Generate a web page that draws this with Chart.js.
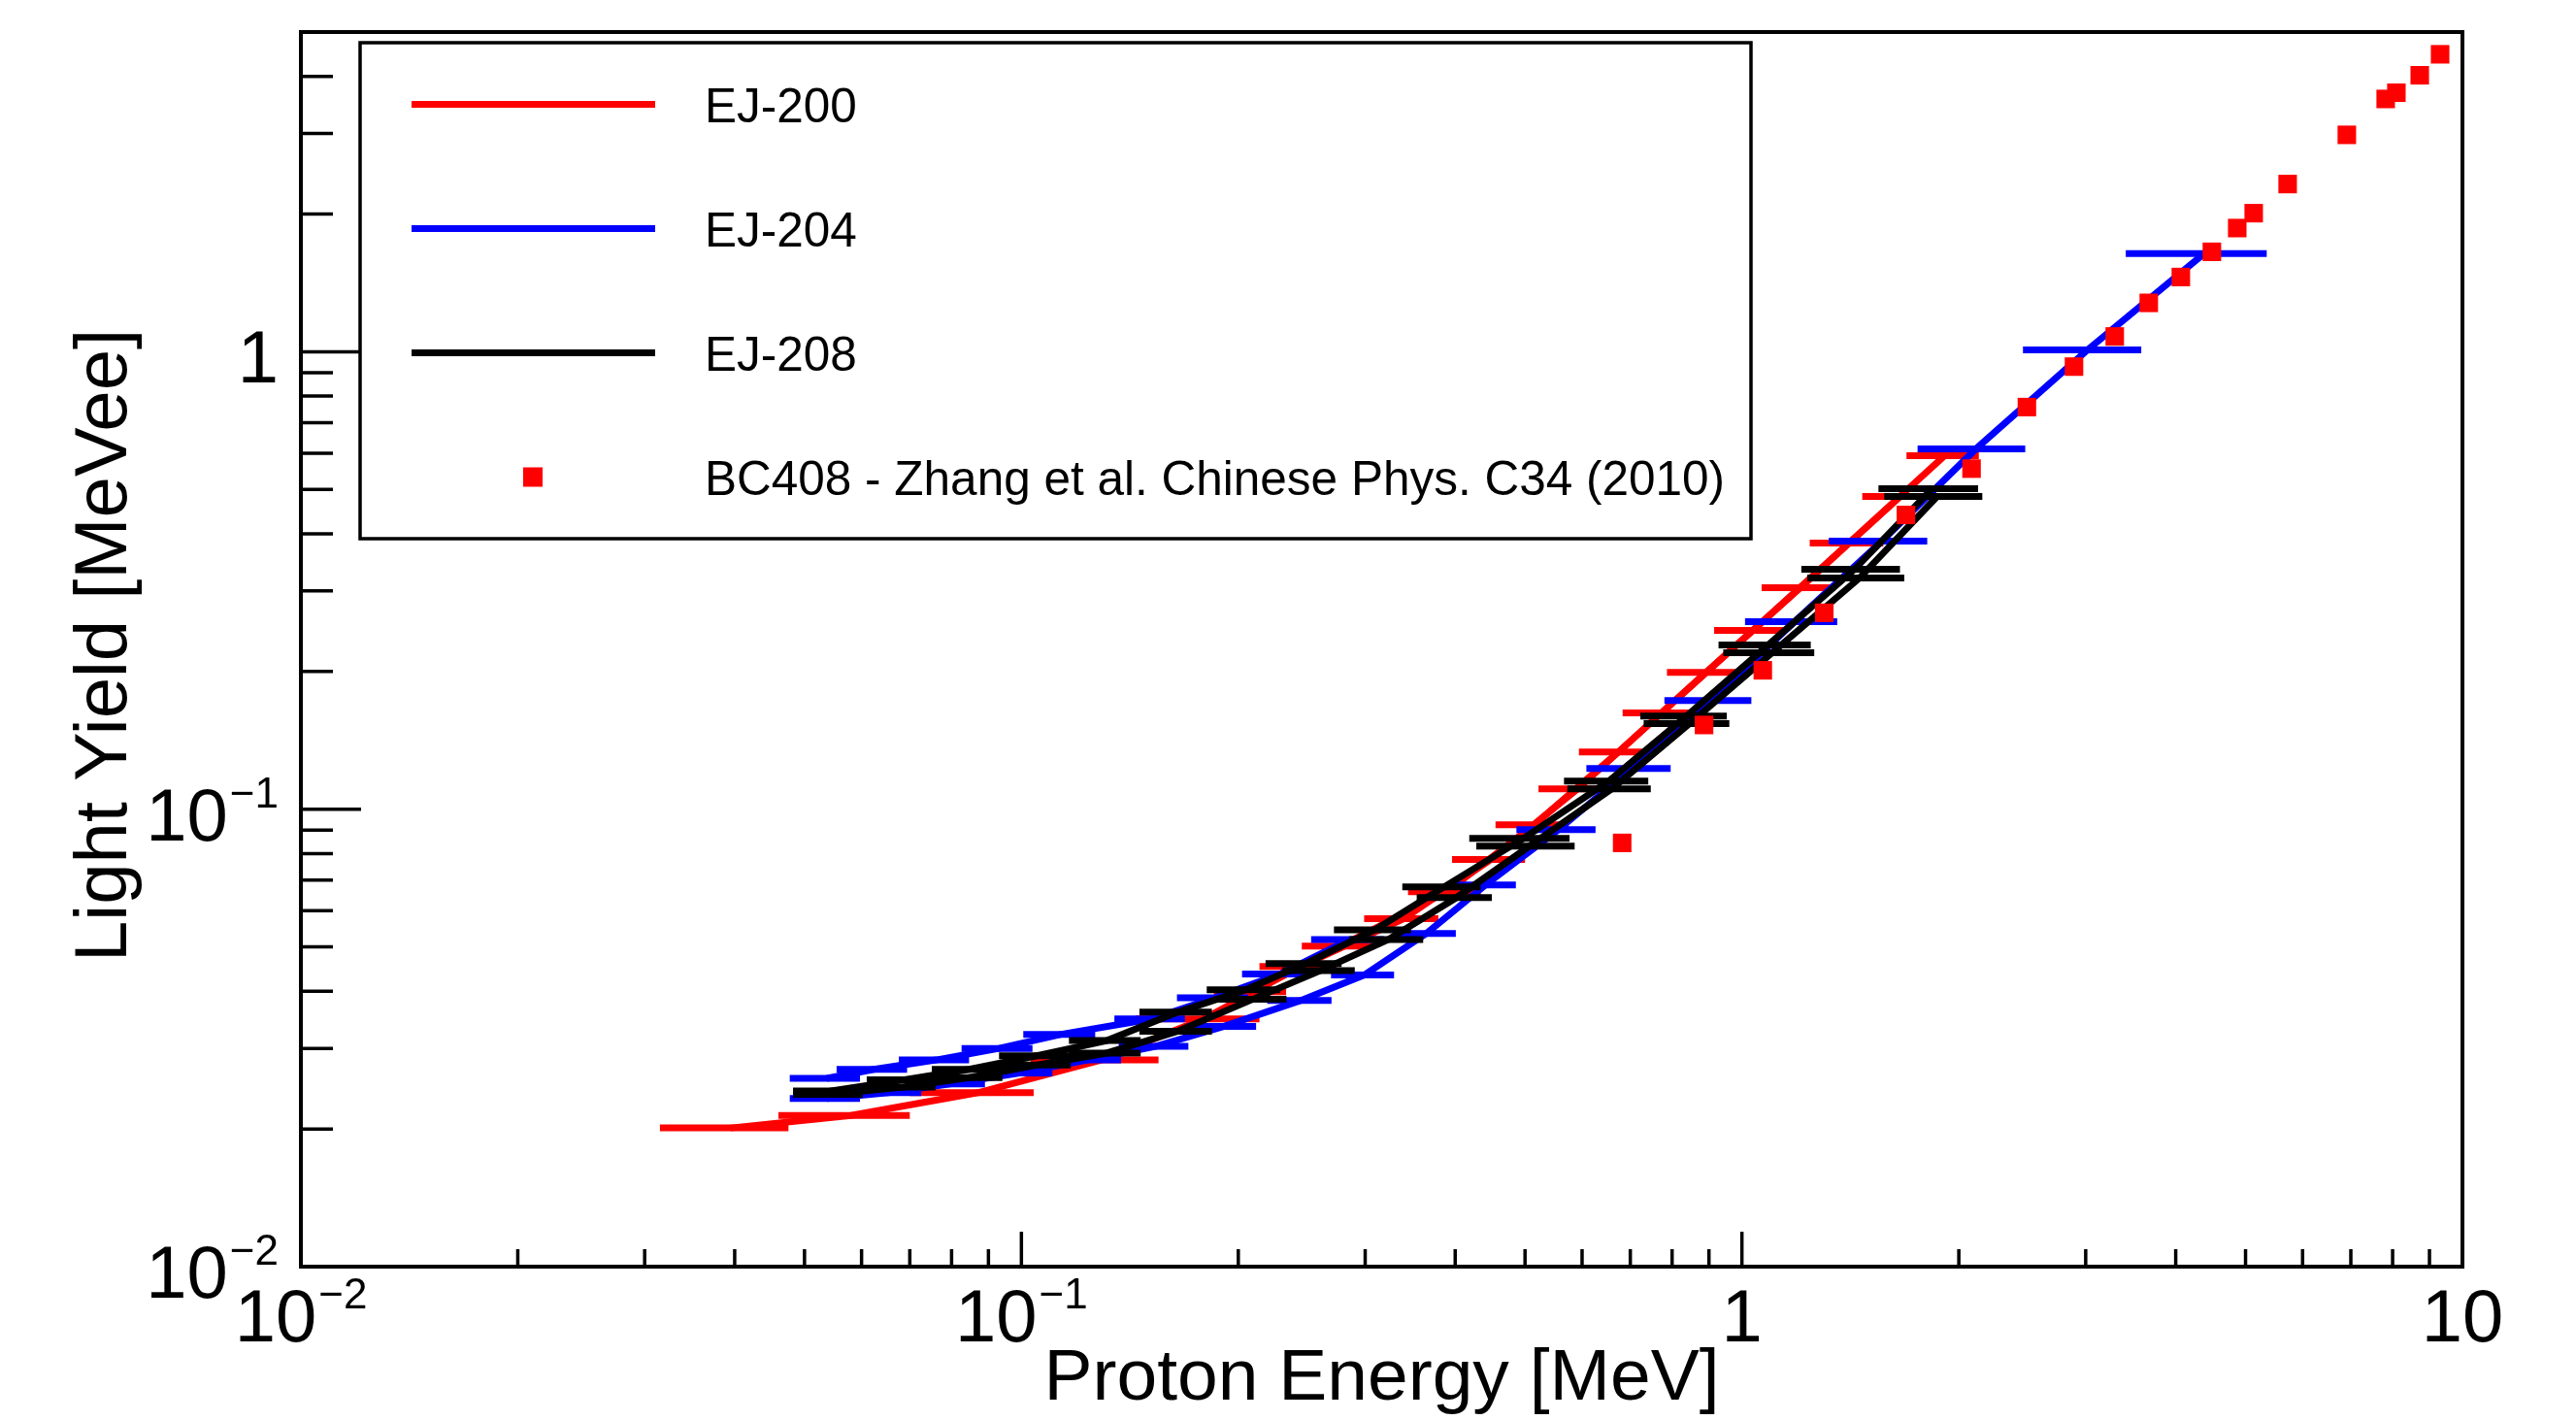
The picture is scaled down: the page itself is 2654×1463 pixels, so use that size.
<!DOCTYPE html>
<html>
<head>
<meta charset="utf-8">
<script src="https://cdn.jsdelivr.net/npm/chart.js@4.4.0/dist/chart.umd.min.js"></script>
<style>
html,body{margin:0;padding:0;background:#ffffff;}
#wrap{width:2654px;height:1463px;}
</style>
</head>
<body>
<div id="wrap"><canvas id="c" width="2654" height="1463"></canvas></div>
<script>
// ---------------- DATA ----------------
// EJ-200 (red), two measurement curves
const ej200aE  = [0.0395, 0.058, 0.087, 0.129, 0.179, 0.244, 0.339, 0.448, 0.592, 0.773, 1.035, 1.407, 1.912];
const ej200aLY = [0.0201, 0.0214, 0.0240, 0.0283, 0.0348, 0.0453, 0.0576, 0.0776, 0.1108, 0.1623, 0.2459, 0.3818, 0.5928];
const ej200aDE = [0.008, 0.012, 0.017, 0.026, 0.035, 0.03, 0.04, 0.052, 0.07, 0.09, 0.12, 0.165, 0.22];

const ej200bE  = [0.209, 0.277, 0.389, 0.515, 0.674, 0.892, 1.205, 1.659];
const ej200bLY = [0.0399, 0.0502, 0.0660, 0.0925, 0.1334, 0.1992, 0.3048, 0.4827];
const ej200bDE = [0.024, 0.032, 0.045, 0.06, 0.08, 0.105, 0.14, 0.19];

// EJ-204 (blue)
const ej204aE  = [0.0537, 0.0624, 0.0761, 0.0931, 0.1136, 0.1516, 0.1854, 0.2284, 0.2854];
const ej204aLY = [0.0258, 0.0270, 0.0283, 0.0300, 0.0322, 0.0348, 0.0387, 0.0436, 0.0519];
const ej204aDE = [0.006, 0.007, 0.0085, 0.0105, 0.013, 0.017, 0.021, 0.026, 0.033];

const ej204bE  = [0.0537, 0.0654, 0.0800, 0.0994, 0.1235, 0.1535, 0.1907, 0.2444, 0.2990, 0.3648, 0.4406, 0.5564, 0.7023, 0.9056, 1.183, 1.564, 2.113, 3.019, 4.380];
const ej204bLY = [0.0233, 0.0240, 0.0251, 0.0265, 0.0283, 0.0303, 0.0335, 0.0382, 0.0434, 0.0535, 0.0683, 0.0902, 0.1228, 0.1729, 0.2569, 0.3855, 0.6135, 1.010, 1.639];
const ej204bDE = [0.006, 0.0072, 0.009, 0.011, 0.014, 0.017, 0.021, 0.025, 0.03, 0.036, 0.045, 0.07, 0.094, 0.125, 0.173, 0.244, 0.36, 0.564, 0.97];

// EJ-208 (black)
const ej208aE  = [0.0542, 0.0685, 0.0846, 0.1051, 0.1314, 0.1648, 0.2048, 0.2482, 0.3095, 0.3858, 0.4974, 0.6538, 0.8379, 1.087, 1.433, 1.837];
const ej208aLY = [0.0242, 0.0256, 0.0270, 0.0289, 0.0312, 0.0360, 0.0403, 0.0460, 0.0545, 0.0676, 0.0863, 0.1152, 0.1599, 0.2285, 0.3345, 0.5021];
const ej208aDE = [0.006, 0.0075, 0.0095, 0.012, 0.015, 0.019, 0.024, 0.03, 0.038, 0.048, 0.079, 0.0875, 0.115, 0.159, 0.224, 0.29];

const ej208bE  = [0.0542, 0.0685, 0.0846, 0.1051, 0.1314, 0.1648, 0.2093, 0.2602, 0.3231, 0.4017, 0.5069, 0.6598, 0.8455, 1.101, 1.456, 1.866];
const ej208bLY = [0.0238, 0.0247, 0.0259, 0.0276, 0.0293, 0.0327, 0.0384, 0.0444, 0.0519, 0.0641, 0.0830, 0.1108, 0.1538, 0.2197, 0.3201, 0.4827];
const ej208bDE = [0.006, 0.0075, 0.0095, 0.012, 0.015, 0.019, 0.024, 0.03, 0.038, 0.048, 0.079, 0.0875, 0.115, 0.159, 0.224, 0.29];

// BC408 - Zhang et al.
const bc408E  = [0.682, 0.886, 1.069, 1.301, 1.689, 2.083, 2.486, 2.890, 3.292, 3.670, 4.066, 4.490, 4.869, 5.132, 5.720, 6.911, 7.825, 8.097, 8.725, 9.311];
const bc408LY = [0.0844, 0.1528, 0.2012, 0.2688, 0.4398, 0.5553, 0.757, 0.928, 1.080, 1.279, 1.457, 1.654, 1.864, 2.009, 2.326, 2.980, 3.570, 3.684, 4.022, 4.470];

// Labels / ticks
const seriesLabels = ['EJ-200', 'EJ-204', 'EJ-208', 'BC408 - Zhang et al. Chinese Phys. C34 (2010)'];
const xTitle = 'Proton Energy [MeV]';
const yTitle = 'Light Yield [MeVee]';
const xTickValues = [0.01, 0.1, 1, 10];
const xTickBases  = ['10', '10', '1', '10'];
const xTickExps   = ['\u22122', '\u22121', '', ''];
const yTickValues = [0.01, 0.1, 1];
const yTickBases  = ['10', '10', '1'];
const yTickExps   = ['\u22122', '\u22121', ''];
const minorMultipliers = [2, 3, 4, 5, 6, 7, 8, 9];

// ---------------- helpers ----------------
const FONT = '"Liberation Sans", Arial, Helvetica, sans-serif';
const RED = '#ff0000', BLUE = '#0000ff', BLACK = '#000000';
const LW = 7;
const pts = (xs, ys) => xs.map((x, i) => ({x: x, y: ys[i]}));

function lineSet(label, xs, ys, dxs, color, order, legend) {
  return {
    label: label, data: pts(xs, ys), xErr: dxs, showLine: true,
    borderColor: color, backgroundColor: color, borderWidth: LW,
    pointRadius: 0, pointHoverRadius: 0, fill: false, tension: 0,
    order: order, inLegend: legend, legendKind: 'line'
  };
}

const datasets = [
  {
    label: seriesLabels[3], data: pts(bc408E, bc408LY), showLine: false,
    pointStyle: 'rect', pointRadius: 13.5, pointHoverRadius: 13.5,
    backgroundColor: RED, borderColor: RED, borderWidth: 0, order: 0,
    inLegend: true, legendKind: 'marker'
  },
  lineSet(seriesLabels[2], ej208aE, ej208aLY, ej208aDE, BLACK, 1, true),
  lineSet('', ej208bE, ej208bLY, ej208bDE, BLACK, 2, false),
  lineSet(seriesLabels[1], ej204bE, ej204bLY, ej204bDE, BLUE, 3, true),
  lineSet('', ej204aE, ej204aLY, ej204aDE, BLUE, 4, false),
  lineSet(seriesLabels[0], ej200aE, ej200aLY, ej200aDE, RED, 5, true),
  lineSet('', ej200bE, ej200bLY, ej200bDE, RED, 6, false)
];

// horizontal error bars, drawn right after each dataset
const errorBars = {
  id: 'errorBars',
  afterDatasetDraw(chart, args) {
    const ds = chart.data.datasets[args.index];
    if (!ds.xErr) return;
    const ctx = chart.ctx, ca = chart.chartArea;
    const xs = chart.scales.x, ys = chart.scales.y;
    ctx.save();
    ctx.beginPath(); ctx.rect(ca.left, ca.top, ca.right - ca.left, ca.bottom - ca.top); ctx.clip();
    ctx.strokeStyle = ds.borderColor; ctx.lineWidth = LW; ctx.lineCap = 'butt';
    ds.data.forEach((p, i) => {
      const y = ys.getPixelForValue(p.y);
      const x0 = xs.getPixelForValue(p.x - ds.xErr[i]);
      const x1 = xs.getPixelForValue(p.x + ds.xErr[i]);
      ctx.beginPath(); ctx.moveTo(x0, y); ctx.lineTo(x1, y); ctx.stroke();
    });
    ctx.restore();
  }
};

function drawPow(ctx, base, exp, x, y, align) {
  ctx.font = '76px ' + FONT;
  const wb = ctx.measureText(base).width;
  let we = 0;
  if (exp) { ctx.font = '44px ' + FONT; we = ctx.measureText(exp).width + 2; }
  const total = wb + we;
  const x0 = align === 'center' ? x - total / 2 : (align === 'right' ? x - total : x);
  ctx.textAlign = 'left'; ctx.textBaseline = 'alphabetic'; ctx.fillStyle = '#000';
  ctx.font = '76px ' + FONT; ctx.fillText(base, x0, y);
  if (exp) { ctx.font = '44px ' + FONT; ctx.fillText(exp, x0 + wb + 2, y - 34); }
}

const rootFrame = {
  id: 'rootFrame',
  afterDraw(chart) {
    const ctx = chart.ctx, ca = chart.chartArea;
    const xs = chart.scales.x, ys = chart.scales.y;
    ctx.save();
    // frame
    ctx.strokeStyle = '#000'; ctx.lineWidth = 4;
    ctx.strokeRect(ca.left, ca.top, ca.right - ca.left, ca.bottom - ca.top);
    // ticks (inside, ROOT style)
    ctx.lineWidth = 3.5; ctx.lineCap = 'butt';
    const xDecades = [0.01, 0.1, 1];
    xDecades.forEach(d => {
      const xm = xs.getPixelForValue(d);
      ctx.beginPath(); ctx.moveTo(xm, ca.bottom); ctx.lineTo(xm, ca.bottom - 36); ctx.stroke();
      minorMultipliers.forEach(m => {
        const v = m * d; if (v > xs.max) return;
        const px = xs.getPixelForValue(v);
        ctx.beginPath(); ctx.moveTo(px, ca.bottom); ctx.lineTo(px, ca.bottom - 18); ctx.stroke();
      });
    });
    const yDecades = [0.01, 0.1, 1];
    yDecades.forEach(d => {
      const ym = ys.getPixelForValue(d);
      ctx.beginPath(); ctx.moveTo(ca.left, ym); ctx.lineTo(ca.left + 62, ym); ctx.stroke();
      minorMultipliers.forEach(m => {
        const v = m * d; if (v > ys.max) return;
        const py = ys.getPixelForValue(v);
        ctx.beginPath(); ctx.moveTo(ca.left, py); ctx.lineTo(ca.left + 33, py); ctx.stroke();
      });
    });
    // tick labels
    xTickValues.forEach((v, i) => drawPow(ctx, xTickBases[i], xTickExps[i], xs.getPixelForValue(v), ca.bottom + 77, 'center'));
    yTickValues.forEach((v, i) => drawPow(ctx, yTickBases[i], yTickExps[i], ca.left - 23, ys.getPixelForValue(v) + 32, 'right'));
    // axis titles
    ctx.fillStyle = '#000'; ctx.font = '75px ' + FONT; ctx.textAlign = 'center'; ctx.textBaseline = 'alphabetic';
    ctx.fillText(xTitle, (ca.left + ca.right) / 2, ca.bottom + 137);
    ctx.save();
    ctx.font = '76px ' + FONT;
    ctx.translate(ca.left - 180.5, (ca.top + ca.bottom) / 2 - 4);
    ctx.rotate(-Math.PI / 2);
    ctx.fillText(yTitle, 0, 0);
    ctx.restore();
    // legend
    const L = {x: 371, y: 44, w: 1433, h: 511};
    ctx.fillStyle = '#fff'; ctx.fillRect(L.x, L.y, L.w, L.h);
    ctx.strokeStyle = '#000'; ctx.lineWidth = 3.5; ctx.strokeRect(L.x, L.y, L.w, L.h);
    const order = [5, 3, 1, 0];
    order.forEach((di, k) => {
      const ds = chart.data.datasets[di];
      const cy = 107.5 + k * 128;
      if (ds.legendKind === 'line') {
        ctx.strokeStyle = ds.borderColor; ctx.lineWidth = 7;
        ctx.beginPath(); ctx.moveTo(424, cy); ctx.lineTo(675, cy); ctx.stroke();
      } else {
        ctx.fillStyle = ds.backgroundColor; ctx.fillRect(549 - 10, cy - 10, 20, 20);
      }
      ctx.fillStyle = '#000'; ctx.font = '49.5px ' + FONT; ctx.textAlign = 'left'; ctx.textBaseline = 'alphabetic';
      ctx.fillText(ds.label, 726, cy + 18);
    });
    ctx.restore();
  }
};

new Chart(document.getElementById('c'), {
  type: 'scatter',
  data: {datasets: datasets},
  options: {
    responsive: false,
    devicePixelRatio: 1,
    animation: false,
    layout: {padding: {left: 310, right: 117, top: 33, bottom: 158}},
    plugins: {legend: {display: false}, tooltip: {enabled: false}},
    scales: {
      x: {type: 'logarithmic', min: 0.01, max: 10, display: false},
      y: {type: 'logarithmic', min: 0.01, max: 5, display: false}
    }
  },
  plugins: [errorBars, rootFrame]
});
</script>
</body>
</html>
